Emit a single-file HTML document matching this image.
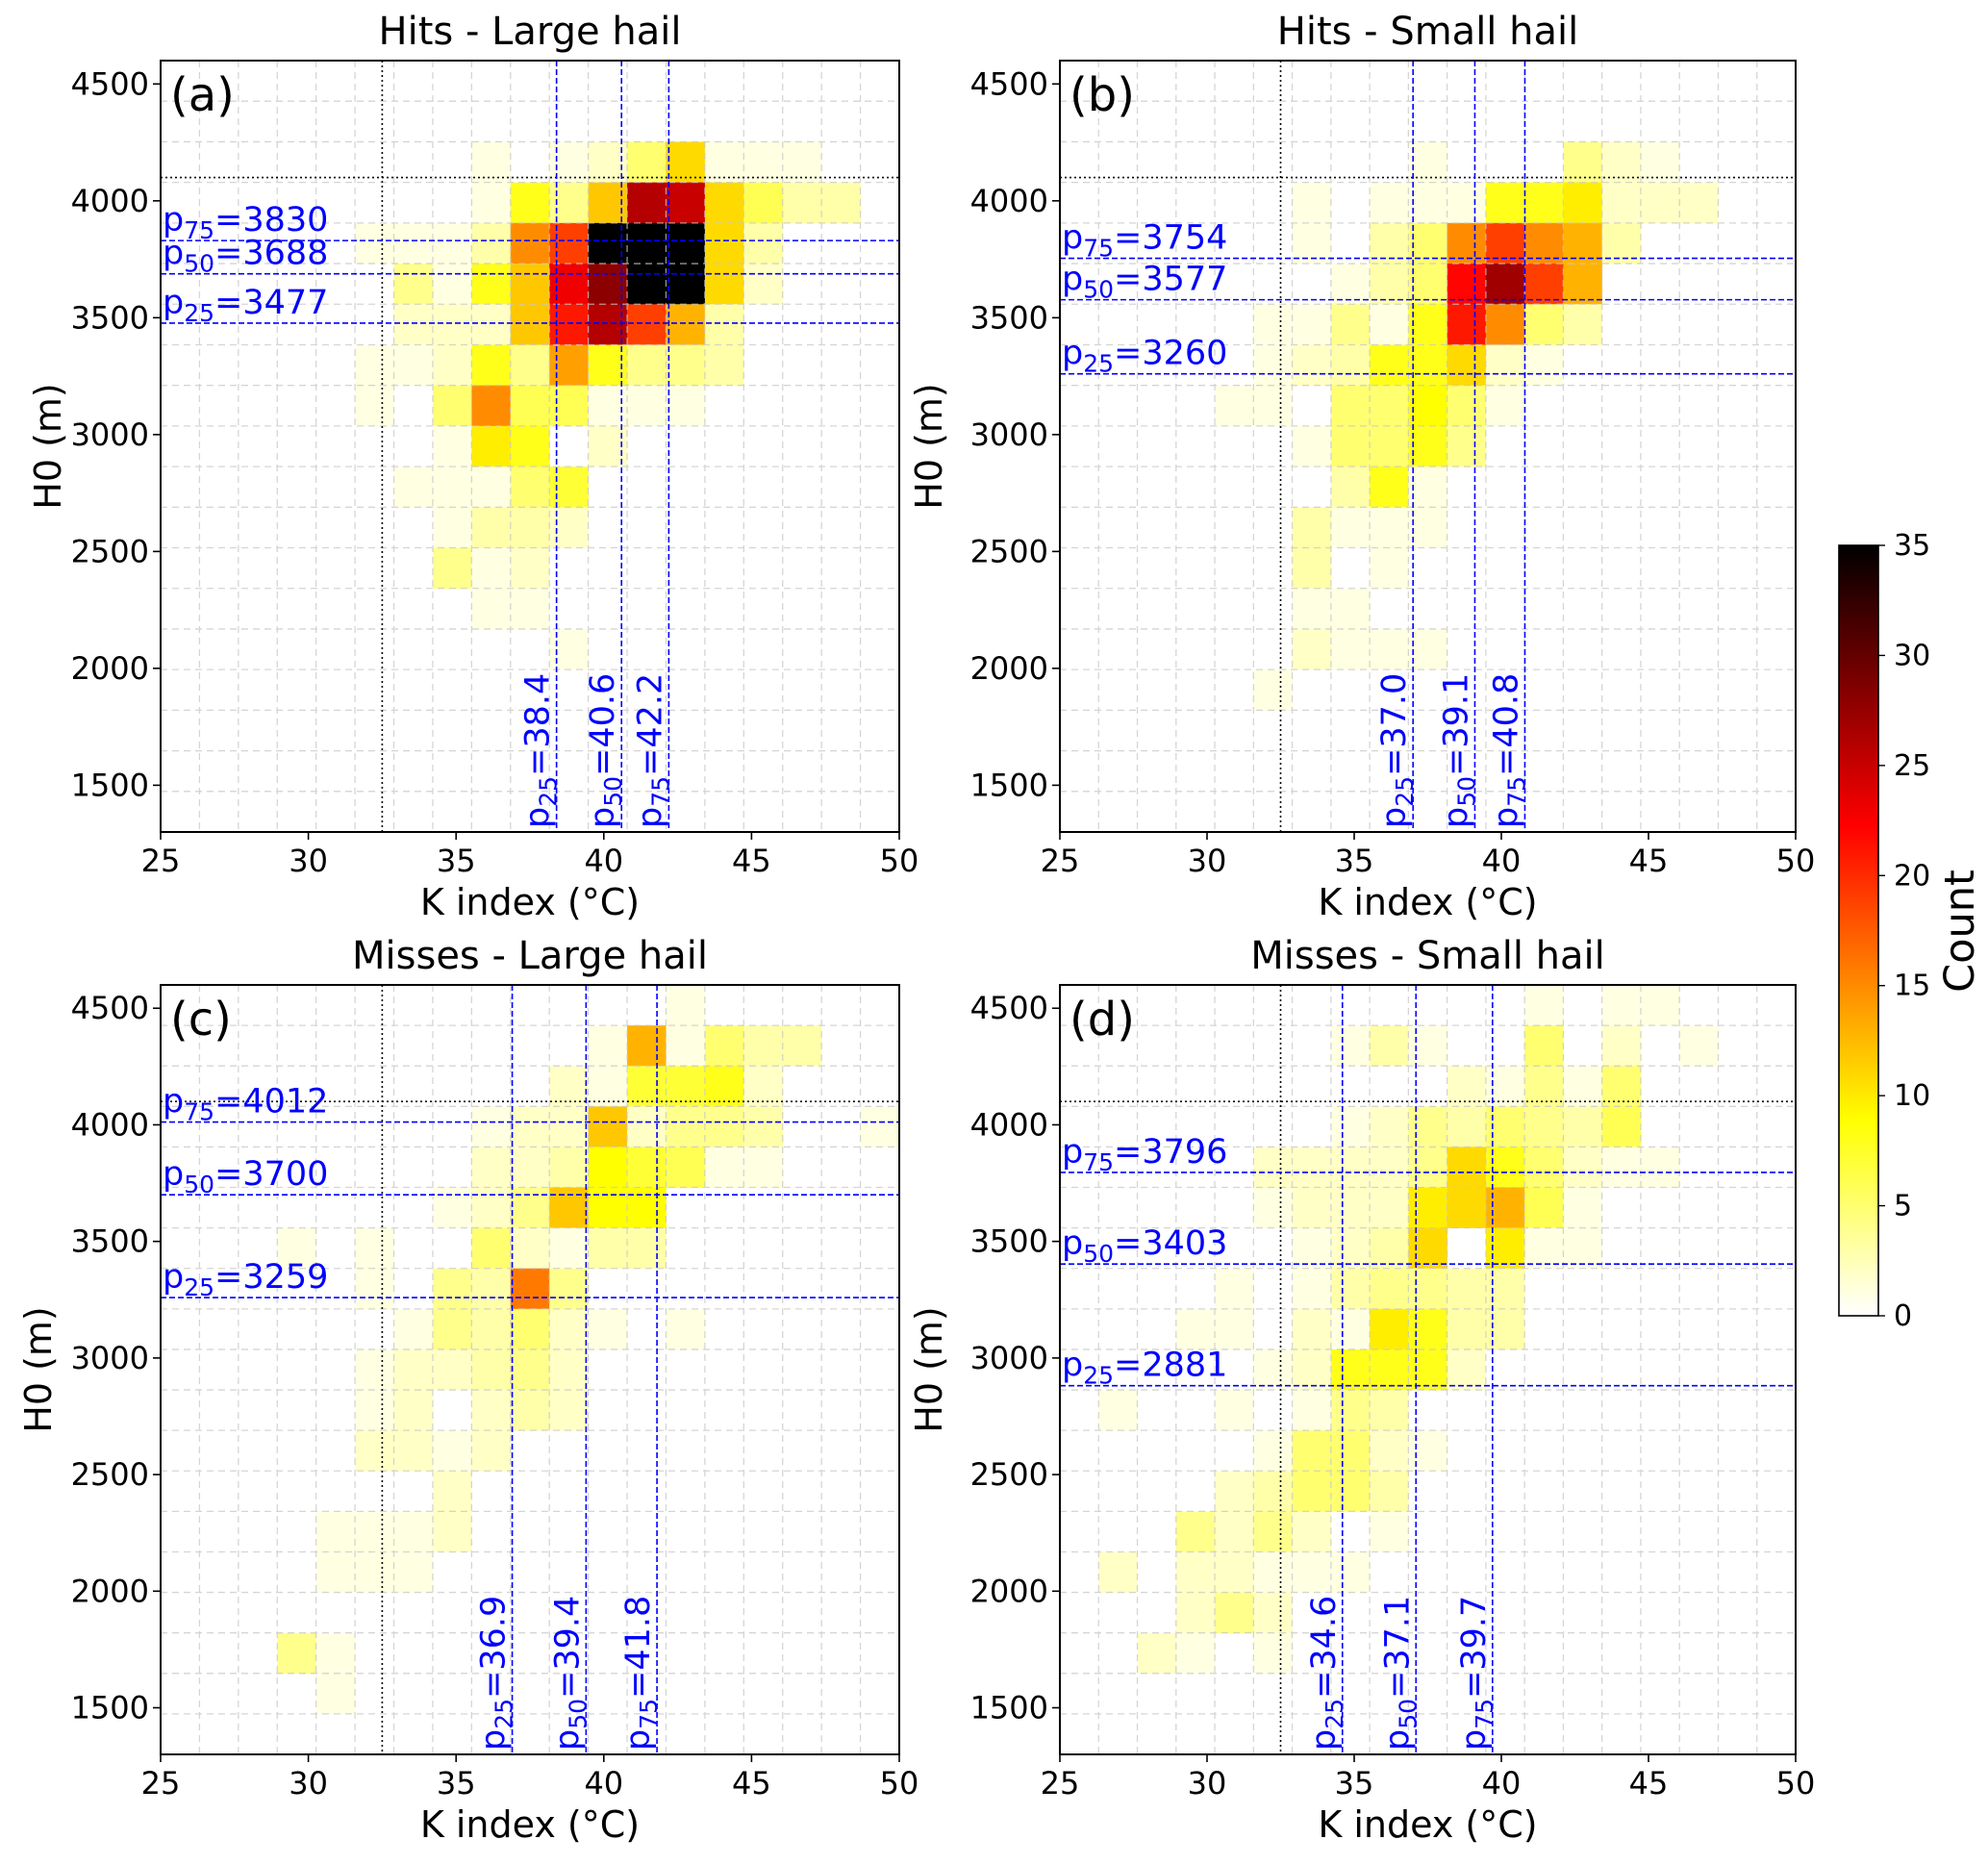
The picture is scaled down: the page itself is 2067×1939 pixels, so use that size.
<!DOCTYPE html>
<html><head><meta charset="utf-8"><title>Hail K index vs H0</title>
<style>
html,body{margin:0;padding:0;background:#fff;}
svg{display:block;font-family:"DejaVu Sans","Liberation Sans",sans-serif;}
</style></head>
<body>
<svg id="fig" width="2067" height="1939" viewBox="0 0 2067 1939" xmlns="http://www.w3.org/2000/svg">
<defs>
<linearGradient id="hotr" x1="0" y1="0" x2="0" y2="1">
<stop offset="0" stop-color="#000000"/>
<stop offset="0.365" stop-color="#ff0000"/>
<stop offset="0.746" stop-color="#ffff00"/>
<stop offset="1" stop-color="#ffffff"/>
</linearGradient>
</defs>
</svg>
<script>
// Bin definitions (19 x 19 bins over the axis ranges)
const kRange = [25, 50];
const hRange = [1300, 4600];
const nBins = 19;
const xTicks = [25, 30, 35, 40, 45, 50];
const yTicks = [1500, 2000, 2500, 3000, 3500, 4000, 4500];
const cbTicks = [0, 5, 10, 15, 20, 25, 30, 35];
const vmax = 35;
const kThreshold = 32.5;
const hThreshold = 4100;

// Counts: rows listed from top (highest H0 bin) to bottom, 19 K bins each
const countsA = [
[0,0,0,0,0,0,0,0,0,0,0,0,0,0,0,0,0,0,0],
[0,0,0,0,0,0,0,0,0,0,0,0,0,0,0,0,0,0,0],
[0,0,0,0,0,0,0,0,1,0,1,2,5,11,1,1,1,0,0],
[0,0,0,0,0,0,0,0,1,8,4,12,26,25,11,6,3,3,0],
[0,0,0,0,0,1,1,1,3,15,19,35,35,35,11,3,0,0,0],
[0,0,0,0,0,0,4,1,8,12,23,28,35,35,11,2,0,0,0],
[0,0,0,0,0,0,2,2,2,12,21,26,19,13,3,0,0,0,0],
[0,0,0,0,0,1,1,2,8,4,14,8,4,4,3,0,0,0,0],
[0,0,0,0,0,1,0,5,15,6,6,1,1,1,0,0,0,0,0],
[0,0,0,0,0,0,0,1,10,8,0,2,0,0,0,0,0,0,0],
[0,0,0,0,0,0,1,1,1,5,7,0,0,0,0,0,0,0,0],
[0,0,0,0,0,0,0,1,3,3,2,0,0,0,0,0,0,0,0],
[0,0,0,0,0,0,0,4,1,2,0,0,0,0,0,0,0,0,0],
[0,0,0,0,0,0,0,0,1,1,0,0,0,0,0,0,0,0,0],
[0,0,0,0,0,0,0,0,0,0,1,0,0,0,0,0,0,0,0],
[0,0,0,0,0,0,0,0,0,0,0,0,0,0,0,0,0,0,0],
[0,0,0,0,0,0,0,0,0,0,0,0,0,0,0,0,0,0,0],
[0,0,0,0,0,0,0,0,0,0,0,0,0,0,0,0,0,0,0],
[0,0,0,0,0,0,0,0,0,0,0,0,0,0,0,0,0,0,0]
];
const countsB = [
[0,0,0,0,0,0,0,0,0,0,0,0,0,0,0,0,0,0,0],
[0,0,0,0,0,0,0,0,0,0,0,0,0,0,0,0,0,0,0],
[0,0,0,0,0,0,0,0,0,1,0,0,0,4,2,1,0,0,0],
[0,0,0,0,0,0,1,0,1,1,1,8,8,10,2,2,2,0,0],
[0,0,0,0,0,0,1,0,3,5,15,19,15,13,3,0,0,0,0],
[0,0,0,0,0,0,0,1,3,5,22,27,19,13,0,0,0,0,0],
[0,0,0,0,0,1,1,4,1,8,21,15,5,3,0,0,0,0,0],
[0,0,0,0,0,1,2,3,8,8,11,2,1,0,0,0,0,0,0],
[0,0,0,0,1,1,0,5,5,9,5,1,0,0,0,0,0,0,0],
[0,0,0,0,0,0,1,5,5,8,4,0,0,0,0,0,0,0,0],
[0,0,0,0,0,0,0,3,8,1,0,0,0,0,0,0,0,0,0],
[0,0,0,0,0,0,3,1,1,1,0,0,0,0,0,0,0,0,0],
[0,0,0,0,0,0,3,0,1,0,0,0,0,0,0,0,0,0,0],
[0,0,0,0,0,0,1,1,0,0,0,0,0,0,0,0,0,0,0],
[0,0,0,0,0,0,2,1,1,1,0,0,0,0,0,0,0,0,0],
[0,0,0,0,0,1,0,0,0,0,0,0,0,0,0,0,0,0,0],
[0,0,0,0,0,0,0,0,0,0,0,0,0,0,0,0,0,0,0],
[0,0,0,0,0,0,0,0,0,0,0,0,0,0,0,0,0,0,0],
[0,0,0,0,0,0,0,0,0,0,0,0,0,0,0,0,0,0,0]
];
const countsC = [
[0,0,0,0,0,0,0,0,0,0,0,0,0,1,0,0,0,0,0],
[0,0,0,0,0,0,0,0,0,0,0,1,13,1,5,3,3,0,0],
[0,0,0,0,0,0,0,0,0,0,2,1,7,7,8,2,0,0,0],
[0,0,0,0,0,0,0,0,1,2,2,12,2,4,4,3,0,0,1],
[0,0,0,0,0,0,0,0,2,2,3,9,7,6,1,1,0,0,0],
[0,0,0,0,0,0,0,1,2,4,12,9,9,0,0,0,0,0,0],
[0,0,0,1,0,1,0,0,5,2,1,3,3,0,0,0,0,0,0],
[0,0,0,0,0,1,0,4,3,16,4,0,0,0,0,0,0,0,0],
[0,0,0,0,0,0,1,4,3,5,2,1,0,1,0,0,0,0,0],
[0,0,0,0,0,1,2,2,3,4,2,0,0,0,0,0,0,0,0],
[0,0,0,0,0,1,2,0,2,3,2,0,0,0,0,0,0,0,0],
[0,0,0,0,0,2,2,1,2,0,0,0,0,0,0,0,0,0,0],
[0,0,0,0,0,0,0,2,0,0,0,0,0,0,0,0,0,0,0],
[0,0,0,0,1,1,1,2,0,0,0,0,0,0,0,0,0,0,0],
[0,0,0,0,1,1,1,0,0,0,0,0,0,0,0,0,0,0,0],
[0,0,0,0,0,0,0,0,0,0,0,0,0,0,0,0,0,0,0],
[0,0,0,4,1,0,0,0,0,0,0,0,0,0,0,0,0,0,0],
[0,0,0,0,1,0,0,0,0,0,0,0,0,0,0,0,0,0,0],
[0,0,0,0,0,0,0,0,0,0,0,0,0,0,0,0,0,0,0]
];
const countsD = [
[0,0,0,0,0,0,0,0,0,0,0,0,1,0,1,1,0,0,0],
[0,0,0,0,0,0,0,1,3,1,0,0,5,0,2,0,1,0,0],
[0,0,0,0,0,0,0,0,0,0,2,1,4,1,5,0,0,0,0],
[0,0,0,0,0,0,0,1,2,4,3,5,4,3,6,0,0,0,0],
[0,0,0,0,0,2,2,2,2,4,11,8,5,2,1,1,0,0,0],
[0,0,0,0,0,1,2,2,2,10,11,13,6,1,0,0,0,0,0],
[0,0,0,0,0,0,1,2,3,11,0,10,1,1,0,0,0,0,0],
[0,0,0,0,1,0,1,3,4,4,3,3,0,0,0,0,0,0,0],
[0,0,0,1,1,0,2,1,10,8,3,3,0,0,0,0,0,0,0],
[0,0,0,0,0,1,2,8,8,8,2,0,0,0,0,0,0,0,0],
[0,1,0,0,1,0,1,4,3,0,0,0,0,0,0,0,0,0,0],
[0,0,0,0,0,1,5,5,2,1,0,0,0,0,0,0,0,0,0],
[0,0,0,0,2,3,5,5,3,0,0,0,0,0,0,0,0,0,0],
[0,0,0,4,2,4,2,0,1,0,0,0,0,0,0,0,0,0,0],
[0,2,0,2,2,1,1,1,0,0,0,0,0,0,0,0,0,0,0],
[0,0,0,2,4,2,0,0,0,0,0,0,0,0,0,0,0,0,0],
[0,0,2,1,0,1,0,0,0,0,0,0,0,0,0,0,0,0,0],
[0,0,0,0,0,0,0,0,0,0,0,0,0,0,0,0,0,0,0],
[0,0,0,0,0,0,0,0,0,0,0,0,0,0,0,0,0,0,0]
];
// Percentiles [p25, p50, p75]
const kPctA = [38.4, 40.6, 42.2];
const hPctA = [3477, 3688, 3830];
const kPctB = [37.0, 39.1, 40.8];
const hPctB = [3260, 3577, 3754];
const kPctC = [36.9, 39.4, 41.8];
const hPctC = [3259, 3700, 4012];
const kPctD = [34.6, 37.1, 39.7];
const hPctD = [2881, 3403, 3796];
const pctNames = ["25", "50", "75"];

const NS = "http://www.w3.org/2000/svg";
const svg = document.getElementById("fig");
function mk(tag, attrs, parent) {
  const e = document.createElementNS(NS, tag);
  for (const k in attrs) e.setAttribute(k, attrs[k]);
  (parent || svg).appendChild(e);
  return e;
}
function hotR(v) {
  const t = 1 - Math.min(Math.max(v / vmax, 0), 1);
  const r = Math.min(1, t / 0.365);
  const g = Math.min(1, Math.max(0, (t - 0.365) / 0.375));
  const b = Math.min(1, Math.max(0, (t - 0.746) / 0.254));
  return "rgb(" + Math.round(r * 255) + "," + Math.round(g * 255) + "," + Math.round(b * 255) + ")";
}

const panels = [
  { key: "a", title: "Hits - Large hail", box: [167, 935, 63, 865], counts: countsA, kp: kPctA, hp: hPctA, ylx: 50 },
  { key: "b", title: "Hits - Small hail", box: [1102, 1867, 63, 865], counts: countsB, kp: kPctB, hp: hPctB, ylx: 966 },
  { key: "c", title: "Misses - Large hail", box: [167, 935, 1024, 1824], counts: countsC, kp: kPctC, hp: hPctC, ylx: 40 },
  { key: "d", title: "Misses - Small hail", box: [1102, 1867, 1024, 1824], counts: countsD, kp: kPctD, hp: hPctD, ylx: 966 }
];

panels.forEach(function (p) {
  const [x0, x1, y0, y1] = p.box;
  const xs = function (k) { return x0 + (k - kRange[0]) / (kRange[1] - kRange[0]) * (x1 - x0); };
  const ys = function (h) { return y1 - (h - hRange[0]) / (hRange[1] - hRange[0]) * (y1 - y0); };
  const g = mk("g", {});
  
  
  const dk = (kRange[1] - kRange[0]) / nBins;
  const dh = (hRange[1] - hRange[0]) / nBins;
  p.counts.forEach(function (row, ri) {
    const bi = nBins - 1 - ri;
    row.forEach(function (v, ci) {
      if (v <= 0) return;
      const kx = kRange[0] + ci * dk, hy = hRange[0] + bi * dh;
      const r = mk("rect", { x: xs(kx), y: ys(hy + dh), width: xs(kx + dk) - xs(kx) + 0.3, height: ys(hy) - ys(hy + dh) + 0.3, fill: hotR(v) }, g);
      
      
    });
  });
  const grid = mk("g", { stroke: "#c8c8c8", "stroke-width": 1.3, "stroke-dasharray": "7,5", opacity: 0.75 }, g);
  
  
  for (let i = 1; i < nBins; i++) {
    mk("line", { x1: xs(kRange[0] + i * dk), x2: xs(kRange[0] + i * dk), y1: y0, y2: y1 }, grid);
    mk("line", { y1: ys(hRange[0] + i * dh), y2: ys(hRange[0] + i * dh), x1: x0, x2: x1 }, grid);
  }
  const tv = mk("line", { x1: xs(kThreshold), x2: xs(kThreshold), y1: y0, y2: y1, stroke: "#000", "stroke-width": 1.6, "stroke-dasharray": "2,3" }, g);
  
  
  const th = mk("line", { x1: x0, x2: x1, y1: ys(hThreshold), y2: ys(hThreshold), stroke: "#000", "stroke-width": 1.6, "stroke-dasharray": "2,3" }, g);
  
  
  p.kp.forEach(function (k, i) {
    const X = xs(k);
    const l = mk("line", { x1: X, x2: X, y1: y0, y2: y1, stroke: "#0000ff", "stroke-width": 1.6, "stroke-dasharray": "6,3" }, g);
    
    
    const t = mk("text", { x: 0, y: 0, fill: "#0000ff", "font-size": 35, transform: "translate(" + (X - 8) + "," + (y1 - 4) + ") rotate(-90)" }, g);
    
    
    t.innerHTML = 'p<tspan font-size="25" dy="8">' + pctNames[i] + '</tspan><tspan dy="-8">=' + k.toFixed(1) + '</tspan>';
  });
  p.hp.forEach(function (h, i) {
    const Y = ys(h);
    const l = mk("line", { x1: x0, x2: x1, y1: Y, y2: Y, stroke: "#0000ff", "stroke-width": 1.6, "stroke-dasharray": "6,3" }, g);
    
    
    const t = mk("text", { x: x0 + 2, y: Y - 10, fill: "#0000ff", "font-size": 35 }, g);
    
    
    t.innerHTML = 'p<tspan font-size="25" dy="8">' + pctNames[i] + '</tspan><tspan dy="-8">=' + h + '</tspan>';
  });
  const fr = mk("rect", { x: x0, y: y0, width: x1 - x0, height: y1 - y0, fill: "none", stroke: "#000", "stroke-width": 2 }, g);
  
  
  xTicks.forEach(function (v) {
    const X = xs(v);
    mk("line", { x1: X, x2: X, y1: y1, y2: y1 + 8, stroke: "#000", "stroke-width": 1.6 }, g);
    const t = mk("text", { x: X, y: y1 + 41, "text-anchor": "middle", "font-size": 32 }, g);
    
    
    t.textContent = v;
  });
  yTicks.forEach(function (v) {
    const Y = ys(v);
    mk("line", { x1: x0 - 8, x2: x0, y1: Y, y2: Y, stroke: "#000", "stroke-width": 1.6 }, g);
    const t = mk("text", { x: x0 - 12, y: Y + 11, "text-anchor": "end", "font-size": 32 }, g);
    
    
    t.textContent = v;
  });
  const ti = mk("text", { x: (x0 + x1) / 2, y: y0 - 17, "text-anchor": "middle", "font-size": 40 }, g);
  
  
  ti.textContent = p.title;
  const xl = mk("text", { x: (x0 + x1) / 2, y: y1 + 86, "text-anchor": "middle", "font-size": 38 }, g);
  
  
  xl.textContent = "K index (°C)";
  const yl = mk("text", { x: 0, y: 0, "text-anchor": "middle", "font-size": 38, transform: "translate(" + (p.ylx + 13) + "," + ((y0 + y1) / 2) + ") rotate(-90)" }, g);
  
  
  yl.textContent = "H0 (m)";
  const pl = mk("text", { x: x0 + 10, y: y0 + 52, "font-size": 48 }, g);
  
  
  pl.textContent = "(" + p.key + ")";
});

const cb = mk("g", {});


const cbx0 = 1912, cbx1 = 1953, cby0 = 567, cby1 = 1368;
mk("rect", { x: cbx0, y: cby0, width: cbx1 - cbx0, height: cby1 - cby0, fill: "url(#hotr)", stroke: "#000", "stroke-width": 1.6 }, cb);
cbTicks.forEach(function (v) {
  const Y = cby1 - v / vmax * (cby1 - cby0);
  mk("line", { x1: cbx1, x2: cbx1 + 7, y1: Y, y2: Y, stroke: "#000", "stroke-width": 1.4 }, cb);
  const t = mk("text", { x: cbx1 + 16, y: Y + 10, "font-size": 30 }, cb);
  
  
  t.textContent = v;
});
const cl = mk("text", { x: 0, y: 0, "text-anchor": "middle", "font-size": 43, transform: "translate(2052,968) rotate(-90)" }, cb);


cl.textContent = "Count";
</script>
</body></html>
